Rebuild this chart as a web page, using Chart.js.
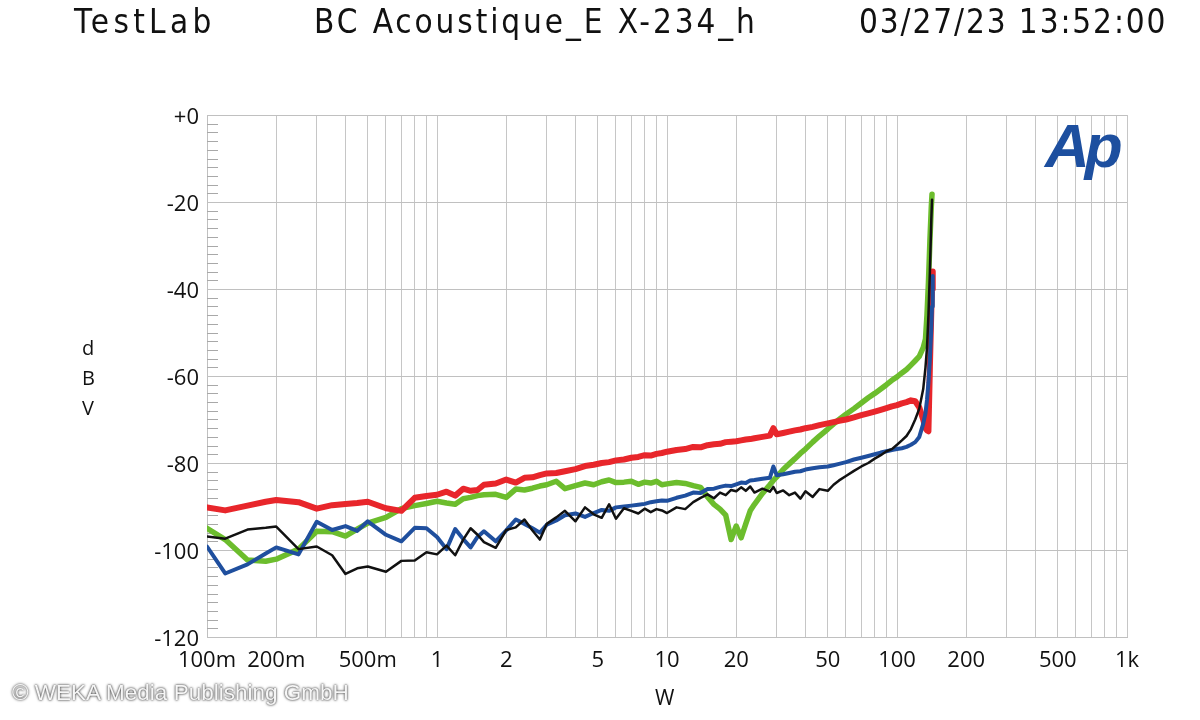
<!DOCTYPE html>
<html>
<head>
<meta charset="utf-8">
<script src="https://cdn.jsdelivr.net/npm/chart.js@4"></script>
<style>
  html, body { margin:0; padding:0; background:#fff; }
  #wrap { position:relative; width:1200px; height:720px; overflow:hidden; }
  canvas { position:absolute; left:0; top:0; }
  .hdr { position:absolute; top:2px; font-family:"DejaVu Sans Condensed","DejaVu Sans",sans-serif; font-size:33px; color:#111; white-space:pre; }
  .ylab { position:absolute; left:82px; font-family:"Open Sans",sans-serif; font-size:20px; color:#111; }
  #xt { position:absolute; left:655px; top:683px; font-family:"Open Sans",sans-serif; font-size:21px; color:#111; }
  #logo { position:absolute; left:1045px; top:110px; font-family:"Liberation Sans",Arial,sans-serif; font-weight:bold; font-style:italic; font-size:62px; letter-spacing:-5px; color:#1d4f9f; }
  #copy { position:absolute; left:12px; top:680px; font-family:"Liberation Sans",Arial,sans-serif; font-size:22.5px; color:#f6f6f6; text-shadow:0 0 2px #444, 0 0 3px #666; white-space:pre; }
</style>
</head>
<body>
<div id="wrap">
  <canvas id="c" width="1200" height="720"></canvas>
  <div class="hdr" style="left:74px; letter-spacing:4.3px">TestLab</div>
  <div class="hdr" style="left:314px; letter-spacing:2.9px">BC Acoustique_E X-234_h</div>
  <div class="hdr" style="left:859px; letter-spacing:1.9px">03/27/23 13:52:00</div>
  <div class="ylab" style="top:334px">d</div>
  <div class="ylab" style="top:364px">B</div>
  <div class="ylab" style="top:394px">V</div>
  <div id="xt">W</div>
  <div id="logo">Ap</div>
  <div id="copy">© WEKA Media Publishing GmbH</div>
</div>
<script>
// ---- data ----
const powerW = [
  0.1,0.12,0.15,0.18,0.2,0.25,0.3,0.35,0.4,0.45,0.5,0.6,0.7,0.8,0.9,
  1,1.1,1.2,1.3,1.4,1.5,1.6,1.8,2,2.2,2.4,2.6,2.8,3,3.3,3.6,4,4.4,4.8,5.2,5.6,6,6.5,7,7.5,8,8.5,9,9.5,
  10,11,12,13,14,15,16,17,18,19,20,21,22,23,24,26,28,29,30,32,34,36,38,40,43,46,50,53,56,60,65,70,75,80,85,90,95,
  100,105,110,115,120,125,130,133,135,137,139,141,142,143
];
const redDb = [
  -90.2,-90.9,-89.8,-88.9,-88.5,-89.0,-90.5,-89.7,-89.4,-89.2,-88.9,-90.4,-91.0,-88.0,-87.6,
  -87.3,-86.6,-87.5,-85.9,-86.4,-86.2,-85.0,-84.7,-83.8,-84.5,-83.4,-83.3,-82.8,-82.4,-82.3,-81.9,-81.4,-80.7,-80.4,-80.0,-79.8,-79.4,-79.2,-78.8,-78.6,-78.2,-78.3,-77.9,-77.7,
  -77.4,-77.0,-76.8,-76.3,-76.4,-75.9,-75.7,-75.6,-75.2,-75.1,-75.0,-74.8,-74.6,-74.5,-74.3,-74.0,-73.7,-72.0,-73.4,-73.1,-72.8,-72.5,-72.3,-72.0,-71.7,-71.3,-70.9,-70.6,-70.3,-70.0,-69.5,-69.0,-68.6,-68.2,-67.8,-67.4,-67.0,
  -66.7,-66.3,-66.0,-65.6,-65.8,-67.2,-70.0,-72.0,-72.5,-72.7,-58,-45,-40,-36
];
const greenDb = [
  -95.0,-97.6,-102.3,-102.6,-102.1,-99.8,-95.7,-95.8,-96.8,-95.2,-93.8,-92.5,-90.5,-89.8,-89.3,
  -88.8,-89.2,-89.5,-88.2,-87.9,-87.5,-87.3,-87.2,-87.9,-86.0,-86.2,-85.8,-85.3,-85.0,-84.2,-85.9,-85.2,-84.6,-85.0,-84.3,-83.9,-84.5,-84.4,-84.2,-84.9,-84.4,-84.6,-84.2,-85.0,
  -84.8,-84.5,-84.7,-85.2,-85.6,-87.8,-89.5,-90.6,-92.0,-97.6,-94.5,-97.2,-94.0,-91.0,-89.5,-87.0,-85.0,-84.0,-83.2,-81.5,-80.2,-79.0,-77.8,-76.8,-75.2,-73.8,-72.2,-71.0,-70.0,-68.8,-67.5,-66.2,-65.0,-64.0,-63.0,-62.0,-61.0,
  -60.2,-59.3,-58.5,-57.5,-56.5,-55.5,-53.5,-51.5,-46,-38.5,-29,-21,-18.2,null
];
const blueDb = [
  -99.2,-105.4,-103.3,-100.8,-99.4,-101.0,-93.5,-95.4,-94.5,-95.6,-93.4,-96.5,-98.0,-94.9,-95.0,
  -97.0,-99.8,-95.2,-97.5,-99.4,-97.0,-95.7,-98.0,-95.5,-93.0,-94.0,-95.0,-96.0,-94.2,-93.2,-92.0,-91.6,-92.4,-91.5,-90.8,-91.0,-90.2,-90.0,-89.8,-89.6,-89.4,-89.0,-88.8,-88.6,
  -88.7,-88.0,-87.5,-86.8,-86.9,-86.0,-85.9,-85.5,-85.2,-85.3,-84.9,-84.5,-84.6,-84.0,-83.9,-83.6,-83.4,-80.8,-82.8,-82.6,-82.3,-82.0,-81.9,-81.5,-81.2,-81.0,-80.8,-80.5,-80.2,-79.8,-79.2,-78.8,-78.4,-78.0,-77.6,-77.3,-77.0,
  -76.8,-76.6,-76.3,-75.8,-75.2,-74.0,-71.0,-68.5,-65.5,-61.5,-56,-49,-44,-37
];
const blackDb = [
  -96.9,-97.4,-95.3,-94.9,-94.6,-99.8,-99.2,-101.2,-105.5,-104.2,-103.8,-105.0,-102.5,-102.4,-100.5,
  -101.0,-99.0,-101.2,-97.6,-95.0,-96.5,-98.2,-99.5,-95.4,-94.8,-93.0,-95.5,-97.6,-94.0,-92.5,-91.0,-93.4,-90.2,-91.8,-92.6,-89.5,-92.8,-90.4,-91.0,-91.6,-90.5,-91.3,-90.6,-90.9,
  -91.5,-90.2,-90.6,-89.0,-88.0,-87.2,-88.1,-86.8,-87.4,-86.2,-86.5,-85.6,-86.4,-85.4,-86.8,-85.9,-86.6,-85.5,-86.9,-86.3,-87.4,-86.8,-88.2,-86.5,-87.8,-86.0,-86.4,-85.0,-84.0,-83.0,-81.8,-80.8,-80.0,-79.0,-78.2,-77.3,-76.8,
  -75.8,-74.8,-73.8,-72.2,-70.0,-67.5,-63,-58,-53.5,-46,-36,-24,-19.5,null
];
const xGridValues = [0.1,0.2,0.3,0.4,0.5,0.6,0.7,0.8,0.9,1,2,3,4,5,6,7,8,9,10,20,30,40,50,60,70,80,90,100,200,300,400,500,600,700,800,900,1000];
const xLabelValues = [0.1,0.2,0.5,1,2,5,10,20,50,100,200,500,1000];
const xLabelTexts = ['100m','200m','500m','1','2','5','10','20','50','100','200','500','1k'];
const yMin = -120, yMax = 0, yStep = 20, yMinorStep = 2;

function pts(arr){ return powerW.map((x,i)=>({x:x, y:arr[i]})).filter(p=>p.y!==null); }

const minorTicks = {
  id:'minorTicks',
  beforeDatasetsDraw(chart){
    const ctx = chart.ctx, y = chart.scales.y, a = chart.chartArea;
    ctx.save();
    ctx.strokeStyle = '#a8a8a8';
    ctx.lineWidth = 1;
    for (let v = yMin + yMinorStep; v < yMax; v += yMinorStep) {
      if (v % yStep === 0) continue;
      const py = Math.round(y.getPixelForValue(v)) + 0.5;
      ctx.beginPath(); ctx.moveTo(a.left, py); ctx.lineTo(a.left + 11, py); ctx.stroke();
    }
    ctx.restore();
  }
};

const tickFont = {family:'"Open Sans", sans-serif', size:22};
new Chart(document.getElementById('c'), {
  type:'line',
  data:{ datasets:[
    {label:'green', data:pts(greenDb), borderColor:'#6cbd2d', borderWidth:5.5, order:4},
    {label:'red', data:pts(redDb), borderColor:'#e8262b', borderWidth:6, order:3},
    {label:'blue', data:pts(blueDb), borderColor:'#1f4f9e', borderWidth:4, order:2},
    {label:'black', data:pts(blackDb), borderColor:'#111111', borderWidth:2.5, order:1}
  ]},
  options:{
    responsive:false, animation:false,
    layout:{padding:{left:0, right:73, top:115, bottom:0}},
    elements:{ point:{radius:0}, line:{tension:0, borderJoinStyle:'round', borderCapStyle:'round'} },
    plugins:{ legend:{display:false}, tooltip:{enabled:false} },
    scales:{
      x:{
        type:'logarithmic', min:0.1, max:1000,
        afterBuildTicks(s){ s.ticks = xGridValues.map(v=>({value:v})); },
        afterFit(s){ s.height = 83; },
        grid:{ color:'#c6c6c6', lineWidth:1, drawTicks:false },
        border:{ color:'#c0c0c0' },
        ticks:{ autoSkip:false, maxRotation:0, padding:11, color:'#111', font:tickFont,
          callback(v){ const i = xLabelValues.indexOf(v); return i>=0 ? xLabelTexts[i] : ''; } }
      },
      y:{
        min:yMin, max:yMax,
        afterFit(s){ s.width = 207; },
        grid:{ color:'#c0c0c0', lineWidth:1, drawTicks:false },
        border:{ color:'#c0c0c0' },
        ticks:{ stepSize:yStep, padding:8, labelOffset:3, color:'#111', font:tickFont,
          callback(v){ return v===0 ? '+0' : String(v); } }
      }
    }
  },
  plugins:[minorTicks]
});
</script>
</body>
</html>
